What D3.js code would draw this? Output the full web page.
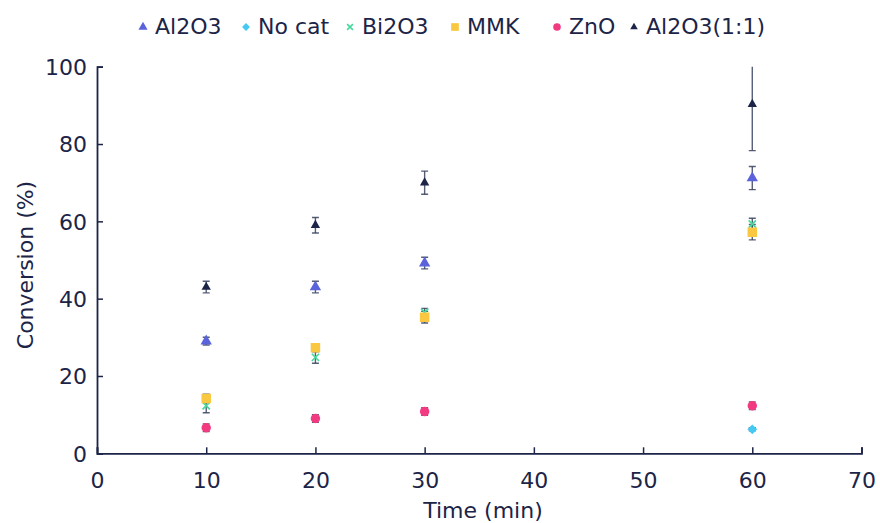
<!DOCTYPE html>
<html><head><meta charset="utf-8">
<script src="https://cdn.jsdelivr.net/npm/d3@7"></script>
<style>body{margin:0;background:#fff}svg{display:block;font-family:"DejaVu Sans",sans-serif}</style>
</head><body><svg id="c" width="880" height="523"></svg>
<script>
const seriesNames = ["Al2O3","No cat","Bi2O3","MMK","ZnO","Al2O3(1:1)"];
const seriesColors = ["#5a62dc","#45c8f2","#45d99a","#f9c740","#f23a80","#1c2447"];
const al2o3X = [10,20,30,60], al2o3Y = [29,43,49.2,71.2], al2o3E = [1,1.5,1.5,3];
const nocatX = [60], nocatY = [6.2], nocatE = [0.4];
const bi2o3X = [10,20,30,60], bi2o3Y = [12.3,24.8,36.5,59.3], bi2o3E = [1.8,1.5,1,1.5];
const mmkX = [10,20,30,60], mmkY = [14.2,27.3,35.2,57.2], mmkE = [1.1,1,1.5,2];
const znoX = [10,20,30,60], znoY = [6.6,9.0,10.8,12.3], znoE = [1,1,1,1];
const al2o311X = [10,20,30,60], al2o311Y = [43,59,70,90.3], al2o311E = [1.5,2,3,12];
const xTicks = [0,10,20,30,40,50,60,70];
const yTicks = [0,20,40,60,80,100];

const svg = d3.select("#c");
const x = d3.scaleLinear().domain([0,70]).range([97,861.5]);
const y = d3.scaleLinear().domain([0,100]).range([453.3,66.7]);
const ink = "#1c2447";
const fs = 22;

const symbols = [
  {t:d3.symbolTriangle,s:56,r:0,stroke:false},
  {t:d3.symbolSquare,s:48,r:45,stroke:false},
  {t:d3.symbolX,s:36,r:0,stroke:true},
  {t:d3.symbolSquare,s:90,r:0,stroke:false},
  {t:d3.symbolCircle,s:70,r:0,stroke:false},
  {t:d3.symbolTriangle,s:38,r:0,stroke:false}
];
const data = [
  [al2o3X,al2o3Y,al2o3E],[nocatX,nocatY,nocatE],[bi2o3X,bi2o3Y,bi2o3E],
  [mmkX,mmkY,mmkE],[znoX,znoY,znoE],[al2o311X,al2o311Y,al2o311E]
];

svg.append("defs").append("clipPath").attr("id","clip").append("rect")
  .attr("x",97).attr("y",66.7).attr("width",770).attr("height",387);

// axes
const xAxis = d3.axisBottom(x).tickValues(xTicks).tickSize(-6).tickPadding(19);
const gx = svg.append("g").attr("transform",`translate(0,${y(0)})`).call(xAxis);
const yAxis = d3.axisLeft(y).tickValues(yTicks).tickSize(-6).tickPadding(10);
const gy = svg.append("g").attr("transform",`translate(${x(0)},0)`).call(yAxis);
[gx,gy].forEach(g=>{
  g.selectAll("path").attr("stroke",ink).attr("stroke-width",1.8);
  g.selectAll("line").attr("stroke",ink).attr("stroke-width",1.5);
  g.selectAll("text").attr("fill",ink).attr("font-size",fs).attr("font-family","DejaVu Sans");
});
gx.selectAll("text").attr("dy","0.71em");
gy.selectAll("text").attr("dy","0.36em");

svg.append("text").attr("x",483).attr("y",518).attr("text-anchor","middle")
  .attr("fill",ink).attr("font-size",fs).text("Time (min)");
svg.append("text").attr("transform","translate(33,265) rotate(-90)").attr("text-anchor","middle")
  .attr("fill",ink).attr("font-size",fs).text("Conversion (%)");

const plot = svg.append("g").attr("clip-path","url(#clip)");
// error bars
data.forEach((d,i)=>{
  const [xs,ys,es]=d;
  xs.forEach((xv,j)=>{
    const cx=x(xv), y1=y(ys[j]+es[j]), y2=y(ys[j]-es[j]);
    const g=plot.append("g").attr("stroke","#3a4260").attr("stroke-width",1.4).attr("stroke-opacity",0.85);
    g.append("line").attr("x1",cx).attr("x2",cx).attr("y1",y1).attr("y2",y2);
    g.append("line").attr("x1",cx-3.5).attr("x2",cx+3.5).attr("y1",y1).attr("y2",y1);
    g.append("line").attr("x1",cx-3.5).attr("x2",cx+3.5).attr("y1",y2).attr("y2",y2);
  });
});
// markers
function drawSym(g,i,cx,cy,scale){
  const s=symbols[i];
  const p=g.append("path").attr("d",d3.symbol().type(s.t).size(s.s*scale)())
    .attr("transform",`translate(${cx},${cy}) rotate(${s.r})`);
  if(s.stroke) p.attr("fill","none").attr("stroke",seriesColors[i]).attr("stroke-width",1.6);
  else p.attr("fill",seriesColors[i]);
}
data.forEach((d,i)=>{
  const [xs,ys]=d;
  xs.forEach((xv,j)=>drawSym(plot,i,x(xv),y(ys[j]),1));
});

// legend
const legX=[143,246,350,455,557,634];
const leg=svg.append("g");
seriesNames.forEach((n,i)=>{
  drawSym(leg,i,legX[i],27,0.65);
  leg.append("text").attr("x",legX[i]+12).attr("y",26).attr("dy","0.36em")
    .attr("fill",ink).attr("font-size",fs).text(n);
});
</script></body></html>
